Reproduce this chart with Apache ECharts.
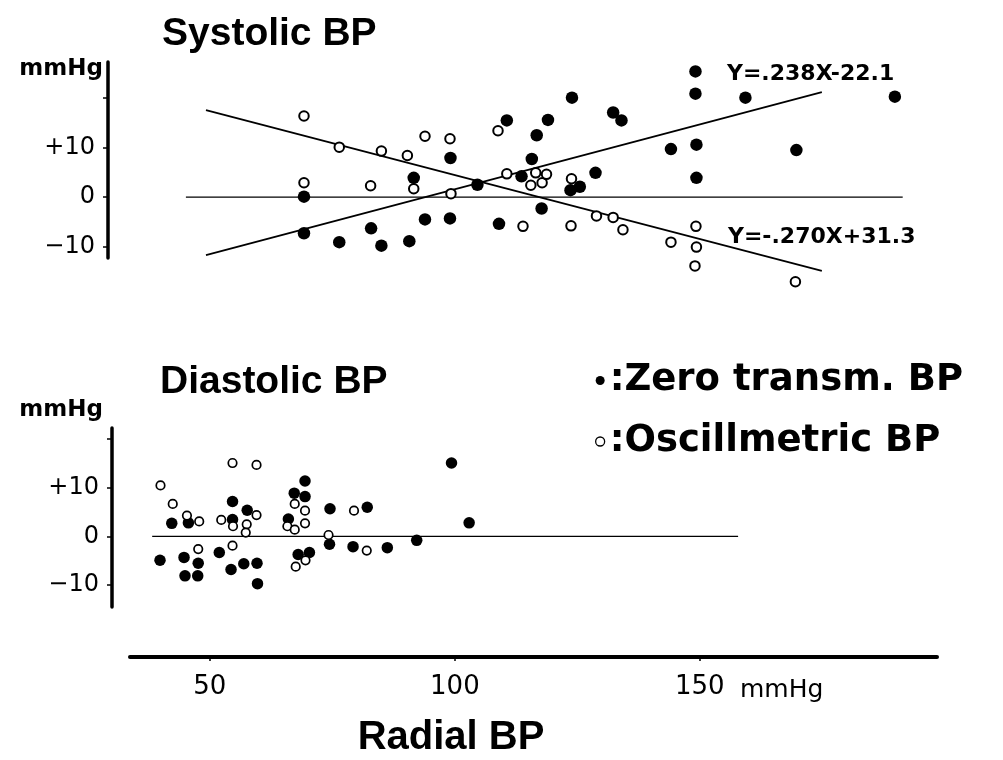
<!DOCTYPE html>
<html><head><meta charset="utf-8">
<script src="https://cdn.jsdelivr.net/npm/echarts@6/dist/echarts.min.js"></script>
<style>html,body{margin:0;padding:0;background:#fff}#c{width:1003px;height:760px}</style>
</head><body><div id="c"></div>
<script>
// Systolic BP: difference (mmHg) vs Radial BP (mmHg)
const sysZero = [[69.2,0.1],[69.2,-7.3],[76.4,-9.1],[82.9,-6.3],[85.0,-9.8],[90.7,-8.9],[91.6,3.9],[93.9,-4.5],[99.0,-4.3],[99.1,7.9],[104.6,2.5],[109.0,-5.4],[110.6,15.5],[113.6,4.2],[115.7,7.7],[116.7,12.5],[117.7,-2.3],[119.0,15.6],[123.6,1.4],[125.5,2.1],[123.9,20.1],[128.7,4.9],[132.3,17.1],[134.0,15.5],[144.1,9.7],[149.1,25.4],[149.1,20.9],[149.3,10.6],[149.3,3.9],[159.3,20.1],[169.7,9.5],[189.8,20.3]];
const sysOsc = [[69.2,16.4],[69.2,2.9],[76.4,10.1],[82.8,2.3],[85.0,9.3],[90.3,8.4],[91.6,1.7],[93.9,12.3],[99.0,11.8],[99.2,0.7],[108.8,13.4],[110.6,4.7],[113.9,-5.9],[115.5,2.4],[116.5,4.9],[117.8,2.9],[118.7,4.6],[123.8,3.7],[123.7,-5.8],[128.9,-3.8],[132.3,-4.1],[134.3,-6.6],[144.1,-9.1],[149.2,-5.9],[149.3,-10.1],[149.0,-13.9],[169.5,-17.1]];
// Diastolic BP
const diaZero = [[39.8,-4.9],[42.2,2.7],[45.6,2.8],[44.7,-4.3],[44.9,-8.1],[47.5,-8.1],[47.6,-5.5],[51.9,-3.3],[54.6,7.2],[54.6,3.5],[57.6,5.4],[54.3,-6.8],[56.9,-5.6],[59.6,-5.5],[59.7,-9.7],[67.2,8.9],[69.4,11.4],[69.4,8.2],[66.0,3.6],[68.0,-3.7],[70.3,-3.3],[74.5,5.7],[74.4,-1.6],[79.2,-2.1],[82.1,6.0],[86.2,-2.3],[92.2,-0.8],[99.3,15.1],[102.9,2.8]];
const diaOsc = [[39.9,10.5],[42.4,6.7],[45.3,4.3],[47.8,3.1],[52.3,3.4],[54.6,15.1],[59.5,14.7],[54.7,2.1],[57.5,2.5],[57.3,0.8],[59.5,4.4],[47.6,-2.6],[54.6,-1.9],[67.3,6.7],[69.4,5.3],[65.8,2.1],[67.3,1.4],[69.4,2.7],[74.2,0.3],[79.4,5.3],[82.0,-2.9],[67.5,-6.2],[69.5,-4.9]];
// regression lines and zero reference lines (end points)
const sysZeroFit = [[49.2,-11.7],[174.9,21.2]];
const sysOscFit = [[49.2,17.6],[174.9,-14.9]];
const sysBase = [[45.1,0],[191.4,0]];
const diaBase = [[38.2,0],[157.8,0]];
// ticks & labels
const yTicks = [-10,0,10,20];
const yLabels = [-10,0,10];
const xTicks = [50,100,150];
const eqZero = 'Y=.238X-22.1';
const eqOsc = 'Y=-.270X+31.3';
const names = ['Zero transm. BP','Oscillmetric BP'];

const chart = echarts.init(document.getElementById('c'));
const yFmt = v => v > 0 ? '+' + v : (v < 0 ? '\u2212' + Math.abs(v) : '0');
const lblFont = {color:'#000', fontFamily:'DejaVu Sans', fontSize:24};
function yAx(idx, min, max){
  return {gridIndex:idx, type:'value', min:min, max:max, splitLine:{show:false},
    axisLine:{show:true, lineStyle:{color:'#000', width:3.5}},
    axisTick:{show:true, customValues:yTicks, length:5, lineStyle:{color:'#000', width:1.5}},
    axisLabel:Object.assign({customValues:yLabels, formatter:yFmt, margin:13}, lblFont)};
}
function xHidden(idx, min){
  return {gridIndex:idx, type:'value', min:min, max:198.4, show:false, splitLine:{show:false}};
}
function lineS(data, xi, w){
  return {type:'line', data:data, xAxisIndex:xi, yAxisIndex:xi, symbol:'none', silent:true, clip:false,
    lineStyle:{color:'#000', width:w}, z:1};
}
const txt = (text, x, y, font, align) => ({type:'text', x:x, y:y, silent:true,
  style:{text:text, fill:'#000', font:font, textAlign:align||'left', textVerticalAlign:'middle'}});

chart.setOption({
  backgroundColor:'#fff',
  animation:false,
  grid:[
    {left:108, top:62, width:829, height:196},
    {left:112, top:428, width:825, height:179},
    {left:130, top:600, width:807, height:57}
  ],
  xAxis:[
    xHidden(0, 29.2),
    xHidden(1, 30.0),
    {gridIndex:2, type:'value', min:33.7, max:198.4, splitLine:{show:false},
      axisLine:{show:true, lineStyle:{color:'#000', width:4}},
      axisTick:{show:true, customValues:xTicks, length:4, lineStyle:{color:'#000', width:1.5}},
      axisLabel:Object.assign({customValues:xTicks, margin:17}, lblFont, {fontSize:26})}
  ],
  yAxis:[
    yAx(0, -12.3, 27.3),
    yAx(1, -14.5, 22.3),
    {gridIndex:2, type:'value', min:0, max:1, show:false}
  ],
  legend:{
    orient:'vertical', left:590, top:357, itemGap:24, itemWidth:9, itemHeight:9,
    selectedMode:false,
    data:[{name:names[0], icon:'circle'}, {name:names[1], icon:'circle', itemStyle:{borderWidth:1.3}}],
    formatter: n => ':' + n,
    textStyle:{color:'#000', fontFamily:'DejaVu Sans', fontWeight:'bold', fontSize:37}
  },
  series:[
    lineS(sysBase, 0, 1.2),
    lineS(sysZeroFit, 0, 1.8),
    lineS(sysOscFit, 0, 1.8),
    lineS(diaBase, 1, 1.2),
    {type:'scatter', name:names[0], data:sysZero, xAxisIndex:0, yAxisIndex:0, symbolSize:12.5, clip:false,
      itemStyle:{color:'#000', opacity:1}, z:3},
    {type:'scatter', name:names[1], data:sysOsc, xAxisIndex:0, yAxisIndex:0, symbolSize:9.5, clip:false,
      itemStyle:{color:'#fff', borderColor:'#000', borderWidth:2, opacity:1}, z:4},
    {type:'scatter', name:names[0], data:diaZero, xAxisIndex:1, yAxisIndex:1, symbolSize:11.5, clip:false,
      itemStyle:{color:'#000', opacity:1}, z:3},
    {type:'scatter', name:names[1], data:diaOsc, xAxisIndex:1, yAxisIndex:1, symbolSize:8.5, clip:false,
      itemStyle:{color:'#fff', borderColor:'#000', borderWidth:1.7, opacity:1}, z:4}
  ],
  graphic:[
    txt('Systolic BP', 162, 34, 'bold 39px "Liberation Sans"'),
    txt('Diastolic BP', 160, 382, 'bold 39px "Liberation Sans"'),
    txt('mmHg', 103, 69, 'bold 23px "DejaVu Sans"', 'right'),
    txt('mmHg', 103, 410, 'bold 23px "DejaVu Sans"', 'right'),
    txt(eqZero, 727, 74, 'bold 22px "DejaVu Sans"'),
    txt(eqOsc, 728, 237, 'bold 22px "DejaVu Sans"'),
    txt('mmHg', 740, 690, '25px "DejaVu Sans"'),
    txt('Radial BP', 451, 738, 'bold 40px "Liberation Sans"', 'center')
  ]
});
</script></body></html>
